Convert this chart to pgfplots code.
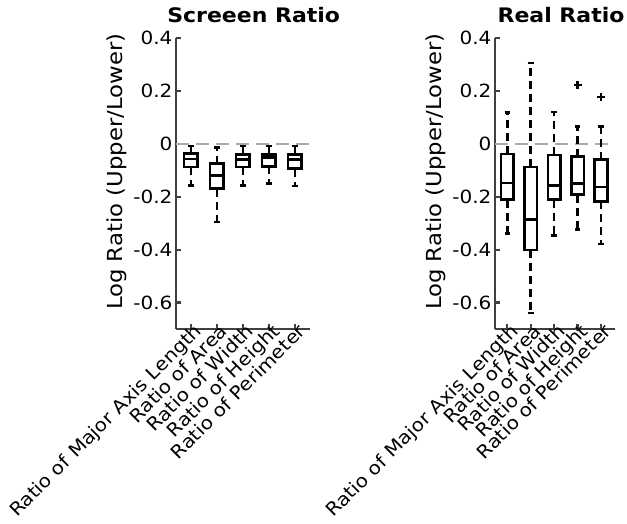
\documentclass[border=0pt]{standalone}
\usepackage{fontspec}
\setmainfont{DejaVu Sans}[FakeStretch=1.1]
\usepackage{pgfplots}
\pgfplotsset{compat=1.18}
\usepackage{pgfplotstable}
\definecolor{axgray}{RGB}{64,64,64}
\definecolor{zerogray}{RGB}{170,170,170}

% box statistics: lower whisker, lower quartile, median, upper quartile, upper whisker
\pgfplotstableread{
x lw lq med uq uw
1 -0.157 -0.087 -0.058 -0.037 -0.008
2 -0.296 -0.170 -0.120 -0.075 -0.015
3 -0.157 -0.087 -0.060 -0.040 -0.008
4 -0.150 -0.085 -0.052 -0.040 -0.008
5 -0.160 -0.094 -0.060 -0.040 -0.008
}\screentab
\pgfplotstableread{
x lw lq med uq uw
1 -0.340 -0.211 -0.148 -0.039 0.119
2 -0.640 -0.401 -0.287 -0.087 0.305
3 -0.347 -0.211 -0.157 -0.043 0.120
4 -0.325 -0.192 -0.151 -0.049 0.065
5 -0.378 -0.218 -0.163 -0.060 0.065
}\realtab

\pgfplotsset{
  ratioaxis/.style={
    scale only axis, height=291pt, ymin=-0.7, ymax=0.4,
    axis x line*=bottom, axis y line*=left,
    axis line style={axgray, line width=2.8pt, -},
    ytick={-0.6,-0.4,-0.2,0,0.2,0.4},
    yticklabels={-0.6,-0.4,-0.2,0,0.2,0.4},
    xtick={1,2,3,4,5},
    xticklabels={Ratio of Major Axis Length,Ratio of Area,Ratio of Width,Ratio of Height,Ratio of Perimeter},
    tick align=inside, major tick length=5pt,
    tick style={axgray, line width=2.2pt},
    tick label style={font=\fontsize{18.2}{21}\selectfont, black},
    xticklabel style={xshift=2pt, yshift=8pt, rotate=45, anchor=north east, inner sep=1pt},
    ylabel={Log Ratio (Upper/Lower)},
    ylabel style={font=\fontsize{20.7}{24}\selectfont, at={(ticklabel cs:0.54)}},
    clip=false,
  },
  zero/.style={zerogray, line width=2.2pt, dash pattern=on 13pt off 7pt},
  whisk/.style={draw=none, mark=none,
    error bars/.cd, y dir=#1, y explicit,
    error bar style={draw=black, line width=2.6pt, dash pattern=on 8pt off 5pt},
    error mark=-,
    error mark options={draw=black, solid, rotate=90, mark size=2.8pt, line width=2.6pt}},
  side/.style={draw=none, mark=none,
    error bars/.cd, y dir=plus, y explicit, error mark=none,
    error bar style={draw=black, line width=2.6pt, solid, line cap=rect}},
  hline/.style={black, only marks, mark=-, mark size=#1,
    mark options={line width=2.6pt, line cap=rect}},
}

\begin{document}
\begin{tikzpicture}
\path[use as bounding box] (-176pt,-195pt) rectangle (451pt,329pt);

% screen ratio
\begin{axis}[ratioaxis, width=134pt, xmin=0.43, xmax=5.58,
  title={Screeen Ratio},
  title style={font=\bfseries\fontsize{20}{24}\selectfont, at={(0.58,1)}, anchor=base, yshift=10pt}]
\addplot[zero] coordinates {(0.43,0) (5.58,0)};
\addplot[whisk=minus] table[x=x, y=lq, y error minus expr=\thisrow{lq}-\thisrow{lw}] {\screentab};
\addplot[whisk=plus] table[x=x, y=uq, y error plus expr=\thisrow{uw}-\thisrow{uq}] {\screentab};
\addplot[side] table[x expr=\thisrow{x}-0.26, y=lq, y error plus expr=\thisrow{uq}-\thisrow{lq}] {\screentab};
\addplot[side] table[x expr=\thisrow{x}+0.26, y=lq, y error plus expr=\thisrow{uq}-\thisrow{lq}] {\screentab};
\addplot[hline=6.8pt] table[x=x, y=lq] {\screentab};
\addplot[hline=6.8pt] table[x=x, y=uq] {\screentab};
\addplot[hline=6.8pt] table[x=x, y=med] {\screentab};
\end{axis}

% real ratio
\begin{axis}[ratioaxis, width=120pt, xmin=0.47, xmax=5.6,
  at={(319pt,0pt)}, anchor=south west,
  title={Real Ratio},
  title style={font=\bfseries\fontsize{20}{24}\selectfont, at={(0.55,1)}, anchor=base, yshift=10pt}]
\addplot[zero] coordinates {(0.47,0) (5.6,0)};
\addplot[whisk=minus] table[x=x, y=lq, y error minus expr=\thisrow{lq}-\thisrow{lw}] {\realtab};
\addplot[whisk=plus] table[x=x, y=uq, y error plus expr=\thisrow{uw}-\thisrow{uq}] {\realtab};
\addplot[side] table[x expr=\thisrow{x}-0.27, y=lq, y error plus expr=\thisrow{uq}-\thisrow{lq}] {\realtab};
\addplot[side] table[x expr=\thisrow{x}+0.27, y=lq, y error plus expr=\thisrow{uq}-\thisrow{lq}] {\realtab};
\addplot[hline=6.3pt] table[x=x, y=lq] {\realtab};
\addplot[hline=6.3pt] table[x=x, y=uq] {\realtab};
\addplot[hline=6.3pt] table[x=x, y=med] {\realtab};
% outliers
\addplot[black, only marks, mark=+, mark size=4pt, mark options={line width=2.4pt}]
  coordinates {(4,0.223) (5,0.178)};
\end{axis}
\end{tikzpicture}
\end{document}
